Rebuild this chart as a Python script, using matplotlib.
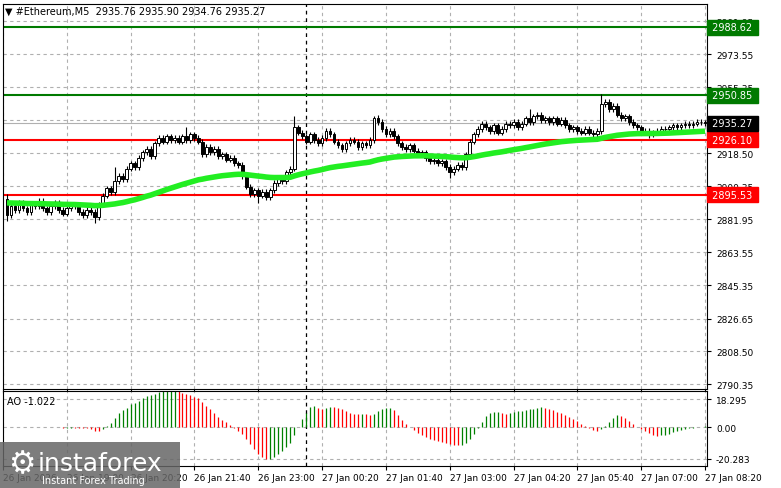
import numpy as np
import pandas as pd
import matplotlib
matplotlib.use("Agg")
import matplotlib.pyplot as plt
from matplotlib.patches import Rectangle

# closes for 176 five-minute bars, 26 Jan 17:45 .. 27 Jan 08:20
closes = [2884, 2889, 2887, 2891, 2888, 2886, 2890, 2889, 2892, 2888, 2886, 2889,
          2891, 2887, 2885, 2888, 2890, 2889, 2886, 2884, 2887, 2886, 2883, 2890,
          2895, 2899, 2897, 2903, 2906, 2904, 2910, 2913, 2911, 2916, 2919,
          2921, 2917, 2924, 2927, 2925, 2928, 2926, 2927, 2925, 2928, 2926, 2929, 2927, 2925,
          2918, 2922, 2919, 2921, 2917, 2918, 2915, 2916, 2913, 2912,
          2906, 2900, 2896, 2898, 2895, 2897, 2894, 2898,
          2902, 2905, 2903, 2908, 2910,
          2933, 2930, 2928, 2925, 2929, 2926, 2924, 2927, 2931, 2929,
          2925, 2923, 2921, 2924, 2926, 2925, 2922, 2924, 2923, 2926,
          2938, 2936, 2932, 2929, 2931, 2928, 2924,
          2922, 2921, 2923, 2920, 2918, 2919,
          2916, 2914, 2915, 2913, 2914, 2911, 2908, 2910, 2912, 2911, 2918,
          2925, 2929, 2932, 2935, 2933, 2931, 2934, 2930, 2932,
          2935, 2934, 2936, 2933, 2935, 2938, 2936, 2939, 2940, 2937, 2938,
          2936, 2938, 2935, 2937, 2934, 2932, 2933, 2931, 2930, 2932, 2930, 2929, 2931,
          2946, 2947, 2943, 2945, 2940, 2938, 2939, 2936, 2934, 2933,
          2930, 2931, 2929, 2930, 2931, 2932, 2932, 2933, 2934, 2933, 2934, 2935,
          2934, 2935, 2936, 2935.76, 2935.27]
first_open = 2893
ma_start = 2891
wick = 1.5
# a few long wicks seen on the chart
spike_high = {0: 2896, 27: 2911, 45: 2933, 72: 2939, 93: 2940, 131: 2943, 149: 2951.5}
spike_low = {0: 2881, 22: 2880, 63: 2891, 111: 2905, 161: 2927}

levels_green = [2988.62, 2950.85]
levels_red = [2926.10, 2895.53]
last_price = 2935.27
price_ticks = [2991.95, 2973.55, 2955.35, 2936.95, 2918.50, 2900.35,
               2881.95, 2863.55, 2845.35, 2826.65, 2808.50, 2790.35]
time_labels = ["26 Jan 2026", "26 Jan 19:00", "26 Jan 20:20", "26 Jan 21:40", "26 Jan 23:00",
               "27 Jan 00:20", "27 Jan 01:40", "27 Jan 03:00", "27 Jan 04:20",
               "27 Jan 05:40", "27 Jan 07:00", "27 Jan 08:20"]
time_pos = [-1, 15, 31, 47, 63, 79, 95, 111, 127, 143, 159, 175]
day_split = 75

c = np.array(closes, dtype=float)
o = np.concatenate([[first_open], c[:-1]])
h = np.maximum(o, c) + wick
l = np.minimum(o, c) - wick
for k, v in spike_high.items():
    h[k] = v
for k, v in spike_low.items():
    l[k] = v
n = len(c)
idx = np.arange(n)

ma = pd.Series(np.concatenate([[ma_start], c[1:]])).ewm(span=75, adjust=False).mean()
med = pd.Series((h + l) / 2)
ao = (med.rolling(5, min_periods=1).mean() - med.rolling(34, min_periods=1).mean()).values

W, H = 781, 489
fig = plt.figure(figsize=(W / 100, H / 100), dpi=100)
axp = fig.add_axes([3 / W, 1 - 390 / H, 704 / W, 385 / H])
axa = fig.add_axes([3 / W, 1 - 467 / H, 704 / W, 75 / H])

for ax in (axp, axa):
    ax.set_xlim(-0.5, 175.5)
    ax.set_xticks(time_pos)
    ax.grid(True, color="#b0b0b0", linestyle=(0, (3, 3)), linewidth=0.8)
    ax.tick_params(axis="both", length=3, labelsize=6.5)
    ax.yaxis.tick_right()
    for s in ax.spines.values():
        s.set_color("black")
        s.set_linewidth(0.8)
    ax.axvline(day_split, color="black", linestyle=(0, (3, 3)), linewidth=0.9)
    ax.set_axisbelow(True)

axp.set_xticklabels([])
axp.set_ylim(2787.6, 3001.5)
axp.set_yticks(price_ticks)
axp.set_yticklabels(["%.2f" % t for t in price_ticks])

# candles
for i in idx:
    axp.vlines(i, l[i], h[i], color="black", linewidth=0.8, zorder=3)
    bot = min(o[i], c[i])
    hgt = max(abs(c[i] - o[i]), 0.3)
    face = "white" if c[i] >= o[i] else "black"
    axp.add_patch(Rectangle((i - 0.35, bot), 0.7, hgt, facecolor=face,
                            edgecolor="black", linewidth=0.7, zorder=4))
axp.plot(idx, ma, color="#22ee22", linewidth=4, zorder=5, solid_capstyle="butt")

for v in levels_green:
    axp.axhline(v, color="#007a00", linewidth=1.5, zorder=2)
for v in levels_red:
    axp.axhline(v, color="red", linewidth=1.5, zorder=2)
axp.axhline(last_price, color="#b0b0b0", linewidth=0.8, zorder=1)

def tag(ax, y, text, bg, fg):
    ax.text(1.003, y, " " + text + " ", transform=ax.get_yaxis_transform(), fontsize=7,
            color=fg, va="center", ha="left", clip_on=False,
            bbox=dict(boxstyle="square,pad=0.25", facecolor=bg, edgecolor=bg), zorder=20)

for v in levels_green:
    tag(axp, v, "%.2f" % v, "#007a00", "white")
for v in levels_red:
    tag(axp, v, "%.2f" % v, "red", "white")
tag(axp, last_price, "%.2f" % last_price, "black", "white")

axp.text(0.003, 0.995, "\u25bc #Ethereum,M5  2935.76 2935.90 2934.76 2935.27",
         transform=axp.transAxes, fontsize=7, va="top", ha="left")

# awesome oscillator
colors = ["#008000" if i == 0 or ao[i] >= ao[i - 1] else "red" for i in idx]
axa.vlines(idx, 0, ao, colors=colors, linewidth=0.9)
axa.set_ylim(-25, 23.5)
axa.set_yticks([18.295, 0.0, -20.283])
axa.set_yticklabels(["18.295", "0.00", "-20.283"])
axa.set_xticklabels(time_labels, ha="left")
axa.tick_params(axis="x", pad=2)
axa.text(0.005, 0.93, "AO -1.022", transform=axa.transAxes, fontsize=7, va="top")

# watermark
fig.patches.append(Rectangle((0, 0), 180 / W, 46 / H, transform=fig.transFigure,
                             facecolor="#666666", alpha=0.85, zorder=10))
fig.text(38 / W, 25 / H, "instaforex", fontsize=18, color="white", zorder=11, va="center")
fig.text(42 / W, 5 / H, "Instant Forex Trading", fontsize=7, color="white", zorder=11)
fig.text(8 / W, 24 / H, "\u2699", fontsize=22, color="white", zorder=11, va="center")

fig.savefig("out.png", dpi=100)
